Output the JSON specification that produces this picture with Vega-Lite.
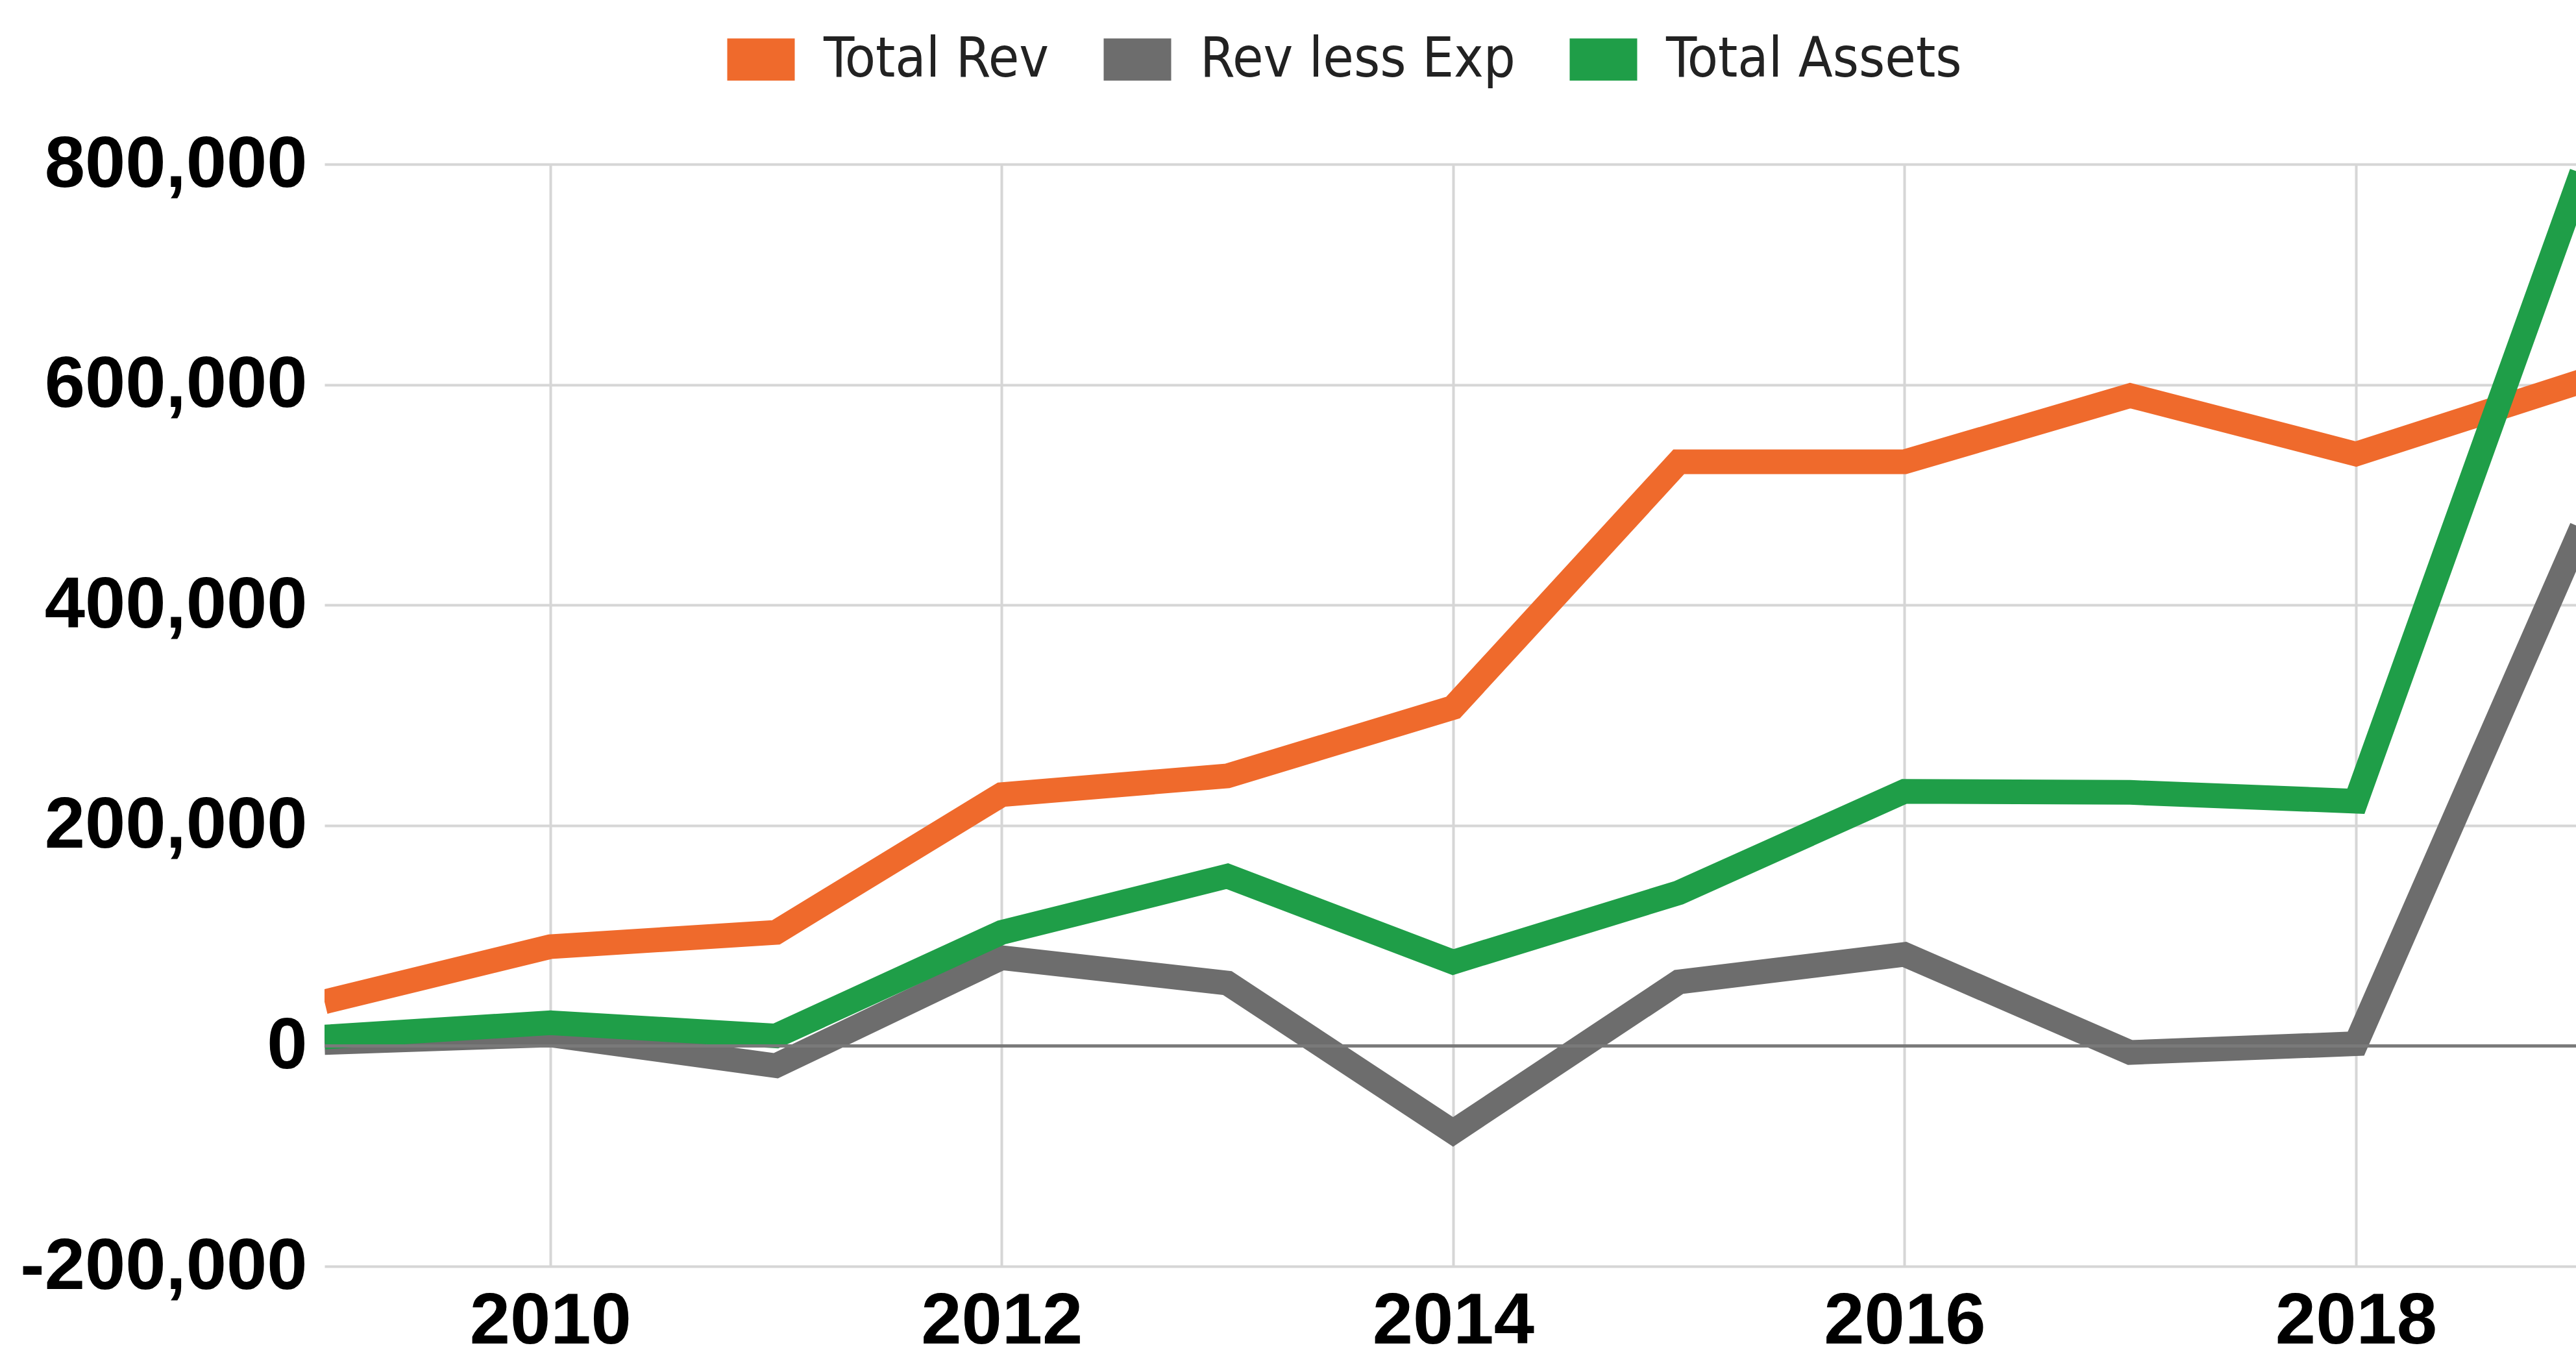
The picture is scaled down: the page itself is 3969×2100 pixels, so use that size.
{
  "$schema": "https://vega.github.io/schema/vega-lite/v6.json",
  "autosize": {"type": "none"},
  "padding": {"left": 500, "top": 253, "right": 0, "bottom": 149},
  "width": 3469,
  "height": 1698,
  "background": "white",
  "config": {
    "locale": {"number": {"decimal": ".", "thousands": ",", "grouping": [3], "currency": ["$", ""], "minus": "-"}},
    "view": {"stroke": null},
    "axis": {"domain": false, "ticks": false, "grid": true, "gridColor": "#d6d6d6", "gridWidth": 4, "labelColor": "#000000", "labelFont": "Liberation Sans", "labelFontWeight": "bold", "labelFontSize": 112, "labelLimit": 2000, "labelOverlap": false, "labelBound": false, "title": null}
  },
  "data": {"values": [
    {"year": 2009, "series": "Rev less Exp", "value": 3000},
    {"year": 2010, "series": "Rev less Exp", "value": 10000},
    {"year": 2011, "series": "Rev less Exp", "value": -18000},
    {"year": 2012, "series": "Rev less Exp", "value": 80000},
    {"year": 2013, "series": "Rev less Exp", "value": 57000},
    {"year": 2014, "series": "Rev less Exp", "value": -78000},
    {"year": 2015, "series": "Rev less Exp", "value": 58000},
    {"year": 2016, "series": "Rev less Exp", "value": 83000},
    {"year": 2017, "series": "Rev less Exp", "value": -6000},
    {"year": 2018, "series": "Rev less Exp", "value": 2000},
    {"year": 2019, "series": "Rev less Exp", "value": 470000},
    {"year": 2009, "series": "Total Rev", "value": 40000},
    {"year": 2010, "series": "Total Rev", "value": 90000},
    {"year": 2011, "series": "Total Rev", "value": 103000},
    {"year": 2012, "series": "Total Rev", "value": 228000},
    {"year": 2013, "series": "Total Rev", "value": 245000},
    {"year": 2014, "series": "Total Rev", "value": 307000},
    {"year": 2015, "series": "Total Rev", "value": 530000},
    {"year": 2016, "series": "Total Rev", "value": 530000},
    {"year": 2017, "series": "Total Rev", "value": 590000},
    {"year": 2018, "series": "Total Rev", "value": 537000},
    {"year": 2019, "series": "Total Rev", "value": 603000},
    {"year": 2009, "series": "Total Assets", "value": 8000},
    {"year": 2010, "series": "Total Assets", "value": 21000},
    {"year": 2011, "series": "Total Assets", "value": 9000},
    {"year": 2012, "series": "Total Assets", "value": 103000},
    {"year": 2013, "series": "Total Assets", "value": 154000},
    {"year": 2014, "series": "Total Assets", "value": 76000},
    {"year": 2015, "series": "Total Assets", "value": 139000},
    {"year": 2016, "series": "Total Assets", "value": 231000},
    {"year": 2017, "series": "Total Assets", "value": 230000},
    {"year": 2018, "series": "Total Assets", "value": 222000},
    {"year": 2019, "series": "Total Assets", "value": 792000}
  ]},
  "layer": [
    {
      "mark": {"type": "line", "strokeWidth": 38, "strokeJoin": "miter", "clip": true},
      "encoding": {
        "x": {"field": "year", "type": "quantitative",
              "scale": {"domain": [2009, 2018.975], "nice": false, "zero": false},
              "axis": {"values": [2010, 2012, 2014, 2016, 2018], "format": "d", "labelPadding": 30, "labelBaseline": "top", "grid": true}},
        "y": {"field": "value", "type": "quantitative",
              "scale": {"domain": [-200000, 800000], "nice": false},
              "axis": {"values": [-200000, 0, 200000, 400000, 600000, 800000], "format": ",d", "labelPadding": 27, "grid": true}},
        "color": {"field": "series", "type": "nominal",
                  "scale": {"domain": ["Total Rev", "Rev less Exp", "Total Assets"], "range": ["#ef6a2c", "#6d6d6d", "#1f9e48"]},
                  "legend": {"orient": "none", "legendX": 588, "legendY": -246, "direction": "horizontal", "title": null,
                             "symbolType": "stroke", "symbolSize": 10816, "symbolStrokeWidth": 65,
                             "labelFont": "DejaVu Sans Condensed", "labelFontSize": 86, "labelColor": "#222222",
                             "labelOffset": 12, "columnPadding": -47, "padding": 0, "labelLimit": 2000}},
        "order": {"field": "series"}
      }
    },
    {
      "mark": {"type": "rule", "color": "#7a7a7a", "strokeWidth": 4},
      "encoding": {"y": {"datum": 0, "type": "quantitative"}}
    }
  ]
}
